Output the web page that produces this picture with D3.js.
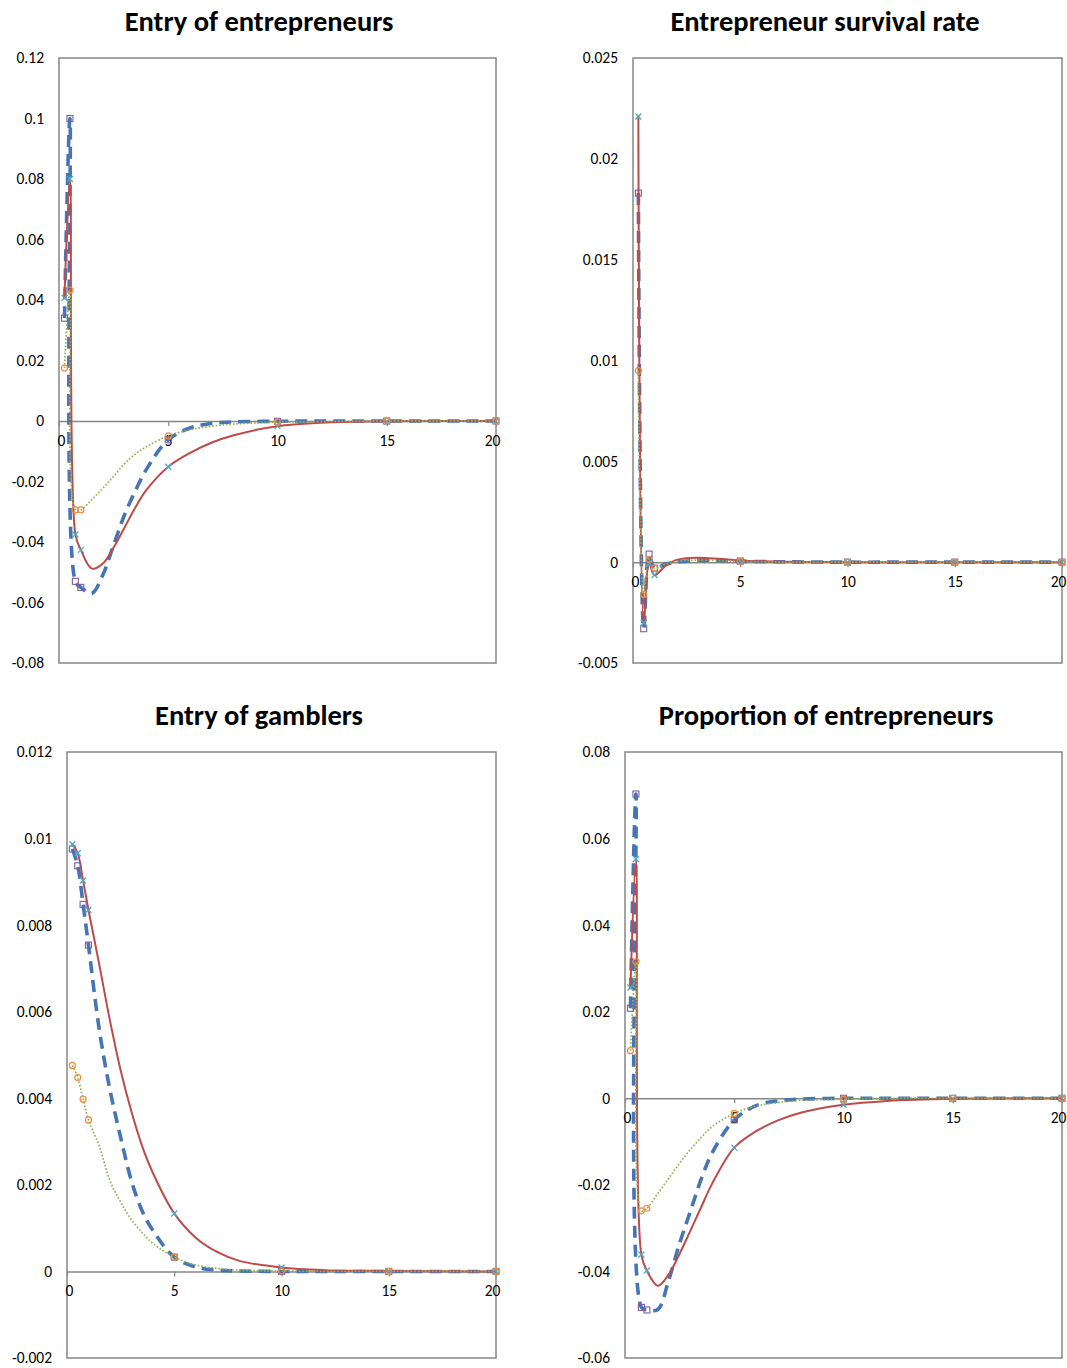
<!DOCTYPE html>
<html><head><meta charset="utf-8">
<script src="https://cdn.jsdelivr.net/npm/d3@7"></script>
<style>body{margin:0;background:#fff}svg{display:block}</style>
</head><body>
<svg id="c" width="1067" height="1368"></svg>
<script>
// ---------- data ----------
const times = [0.25, 0.5, 0.75, 1, 1.5, 2, 2.5, 3, 3.5, 4, 5, 6, 7, 8, 10, 12, 15, 20];
const markerTimes = [0.25, 0.5, 0.75, 1, 5, 10, 15, 20];
const xTickValues = [0, 5, 10, 15, 20];
const xTickLabels = ["0", "5", "10", "15", "20"];

const titles = ["Entry of entrepreneurs", "Entrepreneur survival rate", "Entry of gamblers", "Proportion of entrepreneurs"];

const entryTicks = [-0.08, -0.06, -0.04, -0.02, 0, 0.02, 0.04, 0.06, 0.08, 0.1, 0.12];
const entryTickLabels = ["-0.08", "-0.06", "-0.04", "-0.02", "0", "0.02", "0.04", "0.06", "0.08", "0.1", "0.12"];
const survivalTicks = [-0.005, 0, 0.005, 0.01, 0.015, 0.02, 0.025];
const survivalTickLabels = ["-0.005", "0", "0.005", "0.01", "0.015", "0.02", "0.025"];
const gamblerTicks = [-0.002, 0, 0.002, 0.004, 0.006, 0.008, 0.01, 0.012];
const gamblerTickLabels = ["-0.002", "0", "0.002", "0.004", "0.006", "0.008", "0.01", "0.012"];
const propTicks = [-0.06, -0.04, -0.02, 0, 0.02, 0.04, 0.06, 0.08];
const propTickLabels = ["-0.06", "-0.04", "-0.02", "0", "0.02", "0.04", "0.06", "0.08"];

// Entry of entrepreneurs
const entryDashed = [0.034, 0.100, -0.053, -0.055, -0.057, -0.051, -0.041, -0.031, -0.023, -0.016, -0.0062, -0.0023, -0.0008, -0.0003, -0.0001, 0, 0, 0];
const entrySolid  = [0.0407, 0.080, -0.0375, -0.0426, -0.0488, -0.0472, -0.0418, -0.0352, -0.0285, -0.0228, -0.0151, -0.0105, -0.0071, -0.0047, -0.0017, -0.0006, -0.0001, 0];
const entryDotted = [0.0175, 0.0433, -0.0294, -0.0294, -0.026, -0.0223, -0.0183, -0.0141, -0.0109, -0.0085, -0.0049, -0.0029, -0.0017, -0.001, -0.0004, -0.0002, 0, 0];

// Entrepreneur survival rate
const survivalDashed = [0.0183, -0.0033, 0.0004, -0.0003, -0.0001, 0, 0.00005, 0.0001, 0.0001, 0.0001, 0.00005, 0.00003, 0.00002, 0.00001, 0, 0, 0, 0];
const survivalSolid  = [0.0221, -0.0030, -0.00005, -0.00064, -0.0002, 0.0001, 0.0002, 0.00022, 0.0002, 0.00017, 0.00008, 0.00004, 0.00002, 0.00001, 0, 0, 0, 0];
const survivalDotted = [0.0095, -0.0016, 0.00014, -0.0003, -0.0001, 0.00003, 0.00008, 0.0001, 0.0001, 0.00008, 0.00004, 0.00002, 0.00001, 0, 0, 0, 0, 0];

// Entry of gamblers
const gamblerDashed = [0.00976, 0.00937, 0.00848, 0.00754, 0.0056, 0.0042, 0.0031, 0.0021, 0.0014, 0.00095, 0.00033, 0.0001, 0.00003, 0.00001, 0, 0, 0, 0];
const gamblerSolid  = [0.00987, 0.00966, 0.00903, 0.00835, 0.0071, 0.0058, 0.00465, 0.0037, 0.0029, 0.00228, 0.00134, 0.00078, 0.00045, 0.00025, 0.00009, 0.00003, 0.00001, 0];
const gamblerDotted = [0.00476, 0.00448, 0.00398, 0.0035, 0.0029, 0.0021, 0.0016, 0.0012, 0.0009, 0.00065, 0.00033, 0.00015, 0.00007, 0.00003, 0.00001, 0, 0, 0];

// Proportion of entrepreneurs
const propDashed = [0.0208, 0.0703, -0.0483, -0.0489, -0.0488, -0.042, -0.0335, -0.026, -0.0185, -0.0125, -0.005, -0.0017, -0.0006, -0.0002, 0, 0, 0, 0];
const propSolid  = [0.0256, 0.0553, -0.0361, -0.0398, -0.0433, -0.0407, -0.0359, -0.0305, -0.025, -0.0196, -0.0114, -0.0076, -0.0051, -0.0034, -0.0015, -0.0006, -0.0001, 0];
const propDotted = [0.011, 0.0316, -0.026, -0.0254, -0.022, -0.0185, -0.015, -0.0118, -0.009, -0.0065, -0.0035, -0.0018, -0.001, -0.0005, -0.0002, 0, 0, 0];

// ---------- layout ----------
const FONT = "Carlito, Calibri, Lato, 'Open Sans', sans-serif";
const panels = [
  {title: titles[0], tx: 259, ty: 31, box: [59, 58, 496, 663], yDomain: [-0.08, 0.12], ticks: entryTicks, labels: entryTickLabels, series: [entryDashed, entrySolid, entryDotted]},
  {title: titles[1], tx: 825, ty: 31, box: [633, 58, 1062, 663], yDomain: [-0.005, 0.025], ticks: survivalTicks, labels: survivalTickLabels, series: [survivalDashed, survivalSolid, survivalDotted]},
  {title: titles[2], tx: 259, ty: 725, box: [67, 752, 496, 1358], yDomain: [-0.002, 0.012], ticks: gamblerTicks, labels: gamblerTickLabels, series: [gamblerDashed, gamblerSolid, gamblerDotted]},
  {title: titles[3], tx: 826, ty: 725, box: [625, 752, 1062, 1358], yDomain: [-0.06, 0.08], ticks: propTicks, labels: propTickLabels, series: [propDashed, propSolid, propDotted]}
];
const lineStyles = [
  {stroke: "#4575B4", width: 3.6, dash: "12,7", cap: "butt"},
  {stroke: "#BE4B48", width: 2, dash: null, cap: "round"},
  {stroke: "#8FB24F", width: 1.7, dash: "1.6,1.9", cap: "butt"}
];
const GRAY = "#878787";

const svg = d3.select("#c");
svg.append("rect").attr("width", 1067).attr("height", 1368).attr("fill", "#fff");

panels.forEach(p => {
  const [x0, y0, x1, y1] = p.box;
  const x = d3.scaleLinear().domain([0, 20]).range([x0, x1]);
  const y = d3.scaleLinear().domain(p.yDomain).range([y1, y0]);
  const g = svg.append("g");

  g.append("text").attr("x", p.tx).attr("y", p.ty).attr("text-anchor", "middle")
    .attr("font-family", FONT).attr("font-weight", "bold").attr("font-size", 28.5)
    .attr("fill", "#000").text(p.title);

  g.append("rect").attr("x", x0).attr("y", y0).attr("width", x1 - x0).attr("height", y1 - y0)
    .attr("fill", "none").attr("stroke", GRAY).attr("stroke-width", 1.5);

  // y axis labels
  const ya = d3.axisLeft(y).tickValues(p.ticks).tickSize(0).tickPadding(15)
    .tickFormat((d, i) => p.labels[i]);
  const yg = g.append("g").attr("transform", `translate(${x0},0)`).call(ya);
  yg.select(".domain").remove();
  yg.selectAll(".tick text").attr("font-family", FONT).attr("font-size", 15.5).attr("fill", "#000");

  // x axis along zero
  const xa = d3.axisBottom(x).tickValues(xTickValues).tickSizeInner(5).tickSizeOuter(0).tickPadding(9)
    .tickFormat((d, i) => xTickLabels[i]);
  const xg = g.append("g").attr("transform", `translate(0,${y(0)})`).call(xa);
  xg.select(".domain").attr("stroke", GRAY).attr("stroke-width", 1.5);
  xg.selectAll(".tick line").attr("stroke", GRAY).attr("stroke-width", 1.2);
  xg.selectAll(".tick text").attr("font-family", FONT).attr("font-size", 15.5).attr("fill", "#000")
    .attr("dx", d => d === 0 ? 2 : (d === 20 ? -4 : 0));

  // lines
  const line = d3.line().x((d, i) => x(times[i])).y(d => y(d)).curve(d3.curveCatmullRom.alpha(0.5));
  p.series.forEach((s, k) => {
    const st = lineStyles[k];
    const path = g.append("path").datum(s).attr("d", line).attr("fill", "none")
      .attr("stroke", st.stroke).attr("stroke-width", st.width).attr("stroke-linecap", st.cap)
      .attr("stroke-linejoin", "round");
    if (st.dash) path.attr("stroke-dasharray", st.dash);
  });

  // markers
  const idx = markerTimes.map(t => times.indexOf(t));
  const mk = g.append("g");
  idx.forEach(i => {
    const cx = x(times[i]);
    mk.append("rect").attr("x", cx - 3).attr("y", y(p.series[0][i]) - 3).attr("width", 6).attr("height", 6)
      .attr("fill", "none").attr("stroke", "#7B5FA3").attr("stroke-width", 1.1);
  });
  idx.forEach(i => {
    const cx = x(times[i]), cy = y(p.series[1][i]);
    mk.append("path").attr("d", `M${cx - 3},${cy - 3}L${cx + 3},${cy + 3}M${cx - 3},${cy + 3}L${cx + 3},${cy - 3}`)
      .attr("stroke", "#4BACC6").attr("stroke-width", 1.3).attr("fill", "none");
  });
  idx.forEach(i => {
    mk.append("circle").attr("cx", x(times[i])).attr("cy", y(p.series[2][i])).attr("r", 3)
      .attr("fill", "none").attr("stroke", "#F08A3C").attr("stroke-width", 1.2);
  });
});
</script>
</body></html>
